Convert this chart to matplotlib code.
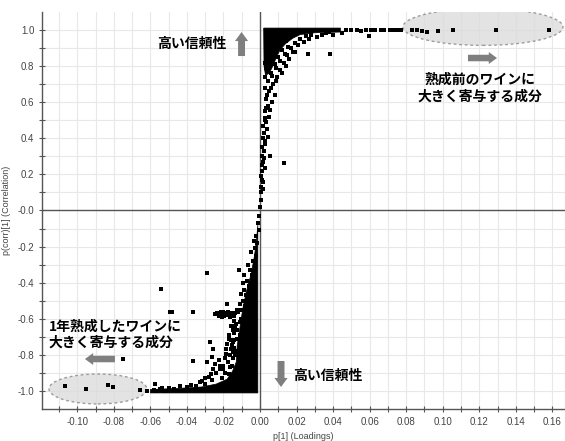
import matplotlib
matplotlib.use("Agg")
import matplotlib.pyplot as plt
from matplotlib.patches import Ellipse, Polygon, FancyArrow

plt.rcParams['font.family'] = ['Liberation Sans', 'DejaVu Sans']

# --- data ---
# solid black core of the upper cluster (p[1], p(corr)[1])
upper_core = [(0.0020, 1.011), (0.044, 1.011), (0.044, 0.989), (0.030, 0.985),
              (0.022, 0.975), (0.018, 0.955), (0.014, 0.925), (0.011, 0.89),
              (0.009, 0.85), (0.007, 0.80), (0.005, 0.76), (0.003, 0.75),
              (0.0022, 0.80)]
# solid black core of the lower cluster
lower_core = [(-0.0012, -0.08), (-0.0012, -1.011), (-0.060, -1.011), (-0.060, -0.992),
              (-0.045, -0.986), (-0.032, -0.978), (-0.024, -0.962), (-0.018, -0.935),
              (-0.015, -0.89), (-0.013, -0.84), (-0.0125, -0.75), (-0.011, -0.65),
              (-0.0095, -0.55), (-0.0075, -0.45), (-0.0048, -0.35), (-0.0030, -0.25),
              (-0.0018, -0.15)]

upper_points = [
    (0.0002, 0.02), (0.0004, 0.06), (0.0006, 0.10), (0.0008, 0.13), (0.0010, 0.17),
    (0.0006, 0.19), (0.0012, 0.22), (0.0009, 0.25), (0.0016, 0.27), (0.0013, 0.30),
    (0.0020, 0.33), (0.0012, 0.35), (0.0030, 0.37), (0.0015, 0.40), (0.0022, 0.43),
    (0.0040, 0.45), (0.0018, 0.47), (0.0030, 0.50), (0.0050, 0.52), (0.0025, 0.55),
    (0.0045, 0.58), (0.0065, 0.60), (0.0035, 0.62), (0.0080, 0.64), (0.0050, 0.66),
    (0.0030, 0.68), (0.0070, 0.70), (0.0045, 0.72), (0.0095, 0.74), (0.0060, 0.76),
    (0.0110, 0.78), (0.0035, 0.79), (0.0080, 0.81), (0.0130, 0.82), (0.0050, 0.83),
    (0.0100, 0.85), (0.0150, 0.86), (0.0070, 0.87), (0.0120, 0.89), (0.0170, 0.90),
    (0.0090, 0.91), (0.0190, 0.93), (0.0140, 0.94), (0.0220, 0.95), (0.0160, 0.96),
    (0.0040, 0.64), (0.0060, 0.68), (0.0090, 0.72), (0.0065, 0.745), (0.0120, 0.76),
    (0.0085, 0.79), (0.0140, 0.80), (0.0110, 0.83), (0.0160, 0.84), (0.0135, 0.87),
    (0.0190, 0.88), (0.0155, 0.905), (0.0210, 0.915), (0.0240, 0.935), (0.0115, 0.935),
    (0.0270, 0.95), (0.0310, 0.96), (0.0250, 0.965), (0.0340, 0.97), (0.0400, 0.975),
    (0.0450, 0.985), (0.0380, 0.99), (0.0035, 0.49), (0.0045, 0.41), (0.0025, 0.385),
    (0.0035, 0.57), (0.0055, 0.555), (0.0025, 0.51), (0.0020, 0.29), (0.0025, 0.235),
    (0.0018, 0.16), (0.0015, 0.12), (0.0030, 0.74), (0.0028, 0.82), (0.0045, 0.78),
    (0.0055, 0.30), (0.0131, 0.265), (0.018, 0.878), (0.0265, 0.867), (0.0383, 0.867),
    (0.0595, 0.967), (0.028, 0.975), (0.036, 0.985),
    (0.047, 1.0), (0.050, 1.0), (0.053, 1.0), (0.055, 0.995), (0.058, 1.0),
    (0.061, 1.0), (0.063, 1.0), (0.066, 1.0), (0.068, 1.0), (0.071, 1.0),
    (0.073, 1.0), (0.075, 1.0), (0.077, 1.0),
]
# components sitting in the upper-right ellipse
upper_right = [(0.0830, 1.0), (0.0858, 1.0), (0.0885, 0.995), (0.0912, 0.99),
               (0.0976, 0.995), (0.1058, 1.0), (0.1292, 1.0), (0.1583, 1.0)]

lower_points = [
    (-0.0005, -0.03), (-0.0012, -0.07), (-0.0008, -0.11), (-0.0020, -0.14),
    (-0.0015, -0.18), (-0.0030, -0.21), (-0.0022, -0.25), (-0.0040, -0.28),
    (-0.0030, -0.31), (-0.0055, -0.33), (-0.0045, -0.36), (-0.0070, -0.39),
    (-0.0060, -0.42), (-0.0085, -0.44), (-0.0075, -0.47), (-0.0095, -0.50),
    (-0.0080, -0.53), (-0.022, -0.575), (-0.020, -0.565), (-0.018, -0.58),
    (-0.016, -0.57), (-0.014, -0.585), (-0.012, -0.565), (-0.011, -0.62),
    (-0.0125, -0.66), (-0.011, -0.69), (-0.017, -0.71), (-0.018, -0.74),
    (-0.016, -0.77), (-0.0135, -0.80), (-0.0146, -0.786), (-0.019, -0.82),
    (-0.022, -0.86), (-0.020, -0.88), (-0.024, -0.90), (-0.028, -0.92),
    (-0.033, -0.95), (-0.038, -0.965), (-0.044, -0.975), (-0.050, -0.985),
    (-0.055, -0.99), (-0.058, -0.995),
    (-0.0035, -0.17), (-0.0050, -0.23), (-0.0065, -0.30), (-0.0085, -0.36),
    (-0.0095, -0.40), (-0.0105, -0.46), (-0.0110, -0.52), (-0.0125, -0.55),
    (-0.0105, -0.60), (-0.0130, -0.63), (-0.0145, -0.68), (-0.0140, -0.72),
    (-0.0155, -0.745), (-0.0165, -0.80), (-0.0175, -0.84), (-0.0155, -0.86),
    (-0.0190, -0.90), (-0.0210, -0.93), (-0.0170, -0.905), (-0.0260, -0.94),
    (-0.0300, -0.96), (-0.0350, -0.975), (-0.0400, -0.98), (-0.0470, -0.99),
    (-0.0520, -1.0), (-0.0570, -1.0), (-0.0620, -1.0), (-0.0105, -0.55),
    (-0.0165, -0.59), (-0.0195, -0.585), (-0.0210, -0.59), (-0.0235, -0.57),
    (-0.0125, -0.71), (-0.0150, -0.73), (-0.0125, -0.78), (-0.0185, -0.77),
    (-0.0185, -0.795), (-0.0225, -0.83), (-0.0255, -0.88), (-0.0270, -0.905),
    (-0.0300, -0.93), (-0.0215, -0.565), (-0.0195, -0.57), (-0.0175, -0.565),
    (-0.0155, -0.58), (-0.0135, -0.57), (-0.0225, -0.585), (-0.0145, -0.61),
    (-0.0160, -0.64), (-0.0150, -0.66), (-0.0170, -0.69), (-0.0160, -0.72),
    (-0.0140, -0.76), (-0.0150, -0.82), (-0.0165, -0.87),
    (-0.0115, -0.331), (-0.0288, -0.344), (-0.0182, -0.516), (-0.0368, -0.562),
    (-0.0246, -0.575), (-0.0490, -0.562), (-0.0274, -0.731), (-0.0256, -0.768),
    (-0.0365, -0.832), (-0.0292, -0.838), (-0.0265, -0.814), (-0.0246, -0.851),
    (-0.0219, -0.878), (-0.0200, -0.860), (-0.0316, -0.943), (-0.0137, -0.639),
    (-0.0542, -0.436), (-0.0483, -0.562), (-0.0748, -0.823), (-0.0575, -0.961),
    (-0.0538, -0.985),
]
# components sitting in the lower-left ellipse
lower_left = [(-0.1065, -0.971), (-0.0952, -0.989), (-0.0830, -0.967),
              (-0.0803, -0.976), (-0.0657, -0.993)]

x_ticks = [-0.10, -0.08, -0.06, -0.04, -0.02, 0.00, 0.02, 0.04, 0.06, 0.08, 0.10, 0.12, 0.14, 0.16]
x_labels = ["-0.10", "-0.08", "-0.06", "-0.04", "-0.02", "0.00", "0.02", "0.04",
            "0.06", "0.08", "0.10", "0.12", "0.14", "0.16"]
y_ticks = [-1.0, -0.8, -0.6, -0.4, -0.2, 0.0, 0.2, 0.4, 0.6, 0.8, 1.0]
y_labels = ["-1.0", "-0.8", "-0.6", "-0.4", "-0.2", "-0.0", "0.2", "0.4", "0.6", "0.8", "1.0"]

fig = plt.figure(figsize=(5.65, 4.41), dpi=100)
ax = fig.add_axes([42 / 565, 32 / 441, 523 / 565, 397 / 441])
ax.set_xlim(-0.1193, 0.1669)
ax.set_ylim(-1.1, 1.1)

ax.set_xticks(x_ticks)
ax.set_xticklabels(x_labels)
ax.set_xticks([v / 100 for v in range(-11, 17)], minor=True)
ax.set_yticks(y_ticks)
ax.set_yticklabels(y_labels)
ax.set_yticks([v / 10 for v in range(-10, 11)], minor=True)
ax.grid(True, which='both', color='#e8e8e8', lw=0.8, zorder=0)
ax.set_axisbelow(True)
ax.tick_params(which='both', direction='inout', length=4, width=0.8, color='#555555',
               labelsize=7, labelcolor='#444444')
for s in ['top', 'right']:
    ax.spines[s].set_visible(False)
for s in ['left', 'bottom']:
    ax.spines[s].set_color('#555555')
    ax.spines[s].set_linewidth(1.0)
ax.axhline(0, color='#555555', lw=1.0, zorder=1)
ax.axvline(0, color='#555555', lw=1.0, zorder=1)

ax.set_xlabel("p[1] (Loadings)", fontsize=6.5, color='#444444', labelpad=4)
ax.set_ylabel("p(corr)[1] (Correlation)", fontsize=6.5, color='#444444', labelpad=5)

# ellipses around the contributing components
ax.add_patch(Ellipse((0.122, 1.017), 0.0876, 0.204, facecolor='#dcdcdc', alpha=0.8,
                     edgecolor='#888888', ls=(0, (2, 2)), lw=1.0, zorder=2))
ax.add_patch(Ellipse((-0.0887, -0.989), 0.0536, 0.166, facecolor='#dcdcdc', alpha=0.8,
                     edgecolor='#888888', ls=(0, (2, 2)), lw=1.0, zorder=2))

ax.add_patch(Polygon(upper_core, closed=True, facecolor='black', edgecolor='black', lw=0.5, zorder=3))
ax.add_patch(Polygon(lower_core, closed=True, facecolor='black', edgecolor='black', lw=0.5, zorder=3))
for pts in [upper_points, upper_right, lower_points, lower_left]:
    xs = [p[0] for p in pts]
    ys = [p[1] for p in pts]
    ax.plot(xs, ys, 's', color='black', ms=3.5, mew=0, zorder=4)

# grey block arrows
arrow_kw = dict(length_includes_head=True, color='#7f7f7f', lw=0, zorder=5)
ax.add_patch(FancyArrow(-0.0101, 0.856, 0, 0.133, width=0.0038, head_width=0.0072,
                        head_length=0.05, **arrow_kw))
ax.add_patch(FancyArrow(0.0115, -0.834, 0, -0.144, width=0.0038, head_width=0.0072,
                        head_length=0.05, **arrow_kw))
ax.add_patch(FancyArrow(0.1138, 0.845, 0.0159, 0, width=0.036, head_width=0.066,
                        head_length=0.0045, **arrow_kw))
ax.add_patch(FancyArrow(-0.0794, -0.823, -0.0164, 0, width=0.036, head_width=0.066,
                        head_length=0.0045, **arrow_kw))

jp = ['Noto Sans CJK JP', 'DejaVu Sans']
ax.text(-0.0564, 0.923, "高い信頼性", family=jp, fontsize=10, weight='bold',
        ha='left', va='center', zorder=6)
ax.text(0.018, -0.917, "高い信頼性", family=jp, fontsize=10, weight='bold',
        ha='left', va='center', zorder=6)
ax.text(0.1204, 0.677, "熟成前のワインに\n大きく寄与する成分", family=jp, fontsize=10,
        weight='bold', ha='center', va='center', linespacing=1.25, zorder=6)
ax.text(-0.1155, -0.688, "1年熟成したワインに\n大きく寄与する成分", family=jp, fontsize=10,
        weight='bold', ha='left', va='center', linespacing=1.25, zorder=6)

fig.savefig("out.png", dpi=100)
